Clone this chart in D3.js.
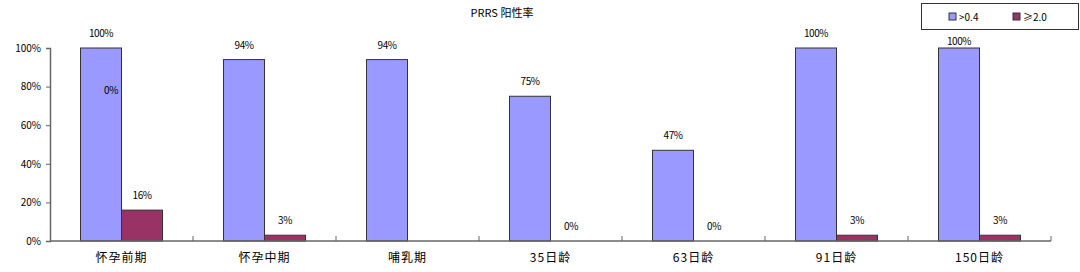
<!DOCTYPE html>
<html>
<head>
<meta charset="utf-8">
<script src="https://cdn.jsdelivr.net/npm/d3@7"></script>
<style>
  body { margin: 0; background: #fff; }
  text { font-family: "Noto Sans CJK SC", "DejaVu Sans", sans-serif; fill: #000; }
</style>
</head>
<body>
<svg id="chart" width="1080" height="272"></svg>
<script>
// chart data
var categories = ["怀孕前期", "怀孕中期", "哺乳期", "35日龄", "63日龄", "91日龄", "150日龄"];
var seriesNames = [">0.4", "≥2.0"];
var lowValues = [100, 94, 94, 75, 47, 100, 100];
var highValues = [16, 3, 0, 0, 0, 3, 3];
// the 哺乳期 ≥2.0 label was dragged away in the original, so it is drawn on its own
var highLabels = ["16%", "3%", null, "0%", "0%", "3%", "3%"];
var strayLabel = { cat: "怀孕前期", text: "0%", at: 78 };
var yTicks = [0, 20, 40, 60, 80, 100];
var colors = ["#9999ff", "#993366"];

var svg = d3.select("#chart"),
   margin = {top: 48, right: 29, bottom: 31, left: 50},
   width = +svg.attr("width") - margin.left - margin.right,
   height = +svg.attr("height") - margin.top - margin.bottom,
   g = svg.append("g").attr("transform", "translate(" + margin.left + "," + margin.top + ")");

var legendBox = {x: 921, y: 3, w: 157, h: 26};

var x = d3.scaleBand()
      .domain(categories)
      .range([0, width])
      .padding(0);

var xs = d3.scaleBand()
      .domain(seriesNames)
      .range([0, x.bandwidth()])
      .paddingInner(0)
      .paddingOuter(0.744);

var y = d3.scaleLinear()
      .domain([0, 100])
      .range([height, 0]);

var rows = categories.map(function (c, i) {
   return {cat: c, vals: [lowValues[i], highValues[i]], labels: [lowValues[i] + "%", highLabels[i]]};
});

// title
svg.append("text")
   .attr("x", 502)
   .attr("y", 17)
   .attr("text-anchor", "middle")
   .style("font-size", "11px")
   .text("PRRS 阳性率");

// bars
var groups = g.selectAll(".grp")
   .data(rows)
   .enter().append("g")
   .attr("class", "grp")
   .attr("transform", function (d) { return "translate(" + x(d.cat) + ",0)"; });

groups.selectAll("rect")
   .data(function (d) { return d.vals.map(function (v, k) { return {s: seriesNames[k], v: v, k: k}; }); })
   .enter().append("rect")
   .filter(function (d) { return d.v > 0; })
   .attr("x", function (d) { return xs(d.s); })
   .attr("y", function (d) { return y(d.v); })
   .attr("width", xs.bandwidth())
   .attr("height", function (d) { return height - y(d.v); })
   .attr("fill", function (d) { return colors[d.k]; })
   .attr("stroke", "#333")
   .attr("stroke-width", 1);

// value labels (pushed under the legend when they would sit behind it)
groups.selectAll(".lbl")
   .data(function (d) { return d.vals.map(function (v, k) { return {cat: d.cat, s: seriesNames[k], v: v, t: d.labels[k]}; }); })
   .enter().append("text")
   .filter(function (d) { return d.t != null; })
   .attr("class", "lbl")
   .attr("x", function (d) { return xs(d.s) + xs.bandwidth() / 2; })
   .attr("y", function (d) {
      var ly = y(d.v) - 11;
      var ax = margin.left + x(d.cat) + xs(d.s) + xs.bandwidth() / 2;
      if (ax > legendBox.x && margin.top + ly - 9 < legendBox.y + legendBox.h) {
         ly = legendBox.y + legendBox.h + 16 - margin.top;
      }
      return ly;
   })
   .attr("text-anchor", "middle")
   .style("font-size", "10px")
   .style("letter-spacing", "-0.5px")
   .text(function (d) { return d.t; });

g.append("text")
   .attr("x", x(strayLabel.cat) + xs(seriesNames[0]) + xs.bandwidth() / 2 + 10)
   .attr("y", y(strayLabel.at) + 4)
   .attr("text-anchor", "middle")
   .style("font-size", "10px")
   .style("letter-spacing", "-0.5px")
   .text(strayLabel.text);

// y axis
var yAxis = g.append("g")
   .call(d3.axisLeft(y).tickValues(yTicks).tickSize(4).tickFormat(function (d) { return d + "%"; }));
yAxis.select(".domain").attr("stroke", "#666").attr("stroke-width", 1.5);
yAxis.selectAll(".tick line").attr("stroke", "#666");
yAxis.selectAll(".tick text")
   .attr("x", -9)
   .style("font-size", "10px")
   .style("font-family", "\"Noto Sans CJK SC\", sans-serif");

// x axis
var xAxis = g.append("g")
   .attr("transform", "translate(0," + height + ")");
xAxis.append("line")
   .attr("x1", 0).attr("x2", width)
   .attr("stroke", "#666").attr("stroke-width", 1.5);
xAxis.selectAll(".xt")
   .data(categories)
   .enter().append("line")
   .attr("x1", function (d) { return x(d) + x.bandwidth(); })
   .attr("x2", function (d) { return x(d) + x.bandwidth(); })
   .attr("y1", 0).attr("y2", -5)
   .attr("stroke", "#666");
xAxis.selectAll(".xl")
   .data(categories)
   .enter().append("text")
   .attr("x", function (d) { return x(d) + x.bandwidth() / 2; })
   .attr("y", 21)
   .attr("text-anchor", "middle")
   .style("font-size", "12px")
   .style("letter-spacing", "1px")
   .text(function (d) { return d; });

// legend
var lg = svg.append("g").attr("transform", "translate(" + legendBox.x + "," + legendBox.y + ")");
lg.append("rect")
   .attr("x", 0.5).attr("y", 0.5)
   .attr("width", legendBox.w).attr("height", legendBox.h)
   .attr("fill", "#fff")
   .attr("stroke", "#333");
var items = lg.selectAll(".li")
   .data(seriesNames)
   .enter().append("g")
   .attr("transform", function (d, i) { return "translate(" + (28 + i * 64) + ",10)"; });
items.append("rect")
   .attr("width", 7).attr("height", 7)
   .attr("fill", function (d, i) { return colors[i]; })
   .attr("stroke", "#333");
items.append("text")
   .attr("x", 10)
   .attr("y", 8)
   .style("font-size", "10px")
   .text(function (d) { return d; });
</script>
</body>
</html>
